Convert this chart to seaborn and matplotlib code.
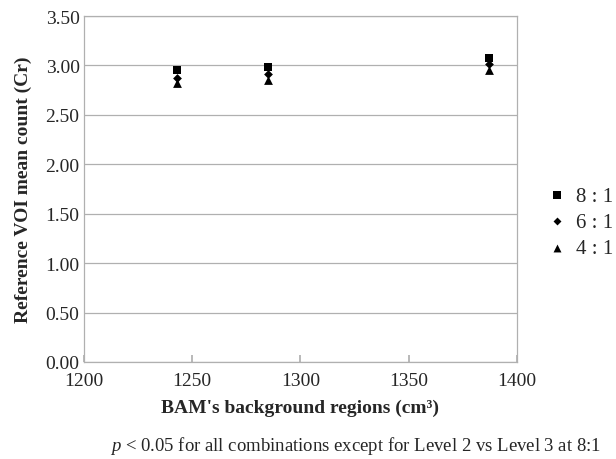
import matplotlib
matplotlib.use("Agg")
import matplotlib.pyplot as plt
import seaborn as sns
import pandas as pd

volumes = [1243, 1285, 1387]
ratios = ["8 : 1", "6 : 1", "4 : 1"]
vals_8 = [2.95, 2.98, 3.08]
vals_6 = [2.87, 2.91, 3.01]
vals_4 = [2.82, 2.85, 2.95]
y_ticks = [0.0, 0.5, 1.0, 1.5, 2.0, 2.5, 3.0, 3.5]
x_ticks = [1200, 1250, 1300, 1350, 1400]

df = pd.DataFrame({
    "vol": volumes * 3,
    "val": vals_8 + vals_6 + vals_4,
    "ratio": [ratios[0]] * 3 + [ratios[1]] * 3 + [ratios[2]] * 3,
})

sns.set_theme(style="white")
plt.rcParams["font.family"] = ["Liberation Serif", "DejaVu Serif"]
plt.rcParams["mathtext.fontset"] = "custom"
plt.rcParams["mathtext.it"] = "Liberation Serif:italic"
plt.rcParams["mathtext.rm"] = "Liberation Serif"

fig = plt.figure(figsize=(6.16, 4.6), dpi=100)
ax = fig.add_axes([0.136, 0.211, 0.703, 0.752])

markers = {ratios[0]: "s", ratios[1]: "D", ratios[2]: "^"}
sizes = {ratios[0]: 38, ratios[1]: 20, ratios[2]: 40}
for r in ratios:
    sub = df[df["ratio"] == r]
    sns.scatterplot(data=sub, x="vol", y="val", ax=ax, marker=markers[r],
                    color="black", s=sizes[r], edgecolor="black", linewidth=0,
                    label=r, zorder=3)

ax.set_xlim(1200, 1400)
ax.set_ylim(0, 3.5)
ax.set_xticks(x_ticks)
ax.set_yticks(y_ticks)
ax.set_yticklabels([f"{v:.2f}" for v in y_ticks])
ax.set_xticklabels([str(v) for v in x_ticks])
ax.yaxis.grid(True, color="#b0b0b0", linewidth=0.9)
ax.xaxis.grid(False)
for s in ax.spines.values():
    s.set_color("#b0b0b0")
    s.set_linewidth(0.9)
ax.tick_params(axis="x", direction="in", length=5, color="#b0b0b0",
               labelsize=14, pad=7, bottom=True)
ax.tick_params(axis="y", length=0, labelsize=14, pad=3)
ax.set_xlabel("BAM's background regions (cm\u00b3)",
              fontsize=14, fontweight="bold", labelpad=7)
ax.set_ylabel("Reference VOI mean count (Cr)", fontsize=14,
              fontweight="bold", labelpad=10)

ax.legend(loc="center left", bbox_to_anchor=(0.888, 0.515),
          bbox_transform=fig.transFigure, frameon=False,
          fontsize=15, handletextpad=0.4, labelspacing=0.32,
          handlelength=1.0, markerscale=0.9, borderaxespad=0, borderpad=0)

fig.text(0.178, 0.02,
         "$\\it{p}$ < 0.05 for all combinations except for Level 2 vs Level 3 at 8:1",
         fontsize=13.5, ha="left", va="baseline")

fig.savefig("out.png", dpi=100)
